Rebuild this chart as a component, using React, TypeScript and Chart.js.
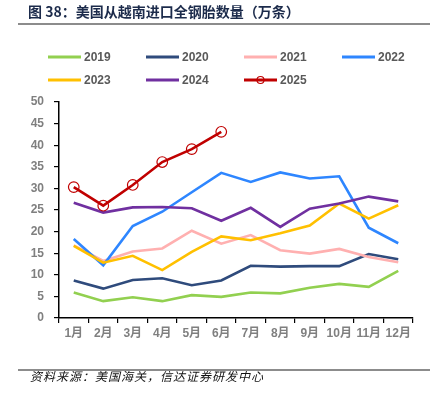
import React, { useEffect, useRef } from 'react';
import { Chart, registerables } from 'chart.js';

Chart.register(...registerables);

const categories = ['1月', '2月', '3月', '4月', '5月', '6月', '7月', '8月', '9月', '10月', '11月', '12月'];
const years = ['2019', '2020', '2021', '2022', '2023', '2024', '2025'];
const v2019 = [5.9, 3.9, 4.8, 3.9, 5.3, 4.9, 5.9, 5.7, 7.0, 7.9, 7.2, 10.9];
const v2020 = [8.7, 6.8, 8.8, 9.2, 7.6, 8.7, 12.1, 11.9, 12.0, 12.0, 14.8, 13.6];
const v2021 = [16.8, 13.2, 15.4, 16.1, 20.2, 17.2, 19.2, 15.7, 14.9, 16.0, 14.1, 12.9];
const v2022 = [18.3, 12.2, 21.3, 24.6, 29.1, 33.6, 31.5, 33.7, 32.3, 32.8, 20.9, 17.3];
const v2023 = [16.7, 12.8, 14.4, 11.1, 15.3, 18.9, 18.0, 19.6, 21.4, 26.5, 23.0, 26.1];
const v2024 = [26.7, 24.4, 25.6, 25.7, 25.4, 22.5, 25.5, 21.1, 25.3, 26.5, 28.1, 27.0];
const v2025 = [30.3, 26.0, 30.8, 36.1, 39.1, 43.1];
const colors = ['#92D050', '#2F4B7C', '#FFB0B0', '#2E86FF', '#FFC000', '#7030A0', '#C00000'];
const seriesValues = [v2019, v2020, v2021, v2022, v2023, v2024, v2025];

const FONT = '"Liberation Sans", Arial, "Noto Sans CJK SC", sans-serif';

const legendPlugin = {
  id: 'gridLegend',
  afterDraw(chart: any) {
    const ctx = chart.ctx;
    const colX = [48, 146, 244, 342];
    const rowY = [57, 80];
    ctx.save();
    chart.data.datasets.forEach((ds: any, i: number) => {
      const x = colX[i % 4];
      const y = rowY[Math.floor(i / 4)];
      ctx.strokeStyle = ds.borderColor;
      ctx.lineWidth = 3;
      ctx.beginPath();
      ctx.moveTo(x, y);
      ctx.lineTo(x + 33, y);
      ctx.stroke();
      if (ds.pointRadius > 0) {
        ctx.lineWidth = 1.2;
        ctx.beginPath();
        ctx.arc(x + 16.5, y, 3.5, 0, Math.PI * 2);
        ctx.stroke();
      }
      ctx.fillStyle = '#595959';
      ctx.font = 'bold 12px ' + FONT;
      ctx.textBaseline = 'middle';
      ctx.textAlign = 'left';
      ctx.fillText(ds.label, x + 36, y + 0.5);
    });
    ctx.restore();
  },
};

export default function App() {
  const ref = useRef<HTMLCanvasElement>(null);
  useEffect(() => {
    if (!ref.current) return;
    const datasets = years.map((y, i) => ({
      label: y,
      data: seriesValues[i],
      borderColor: colors[i],
      backgroundColor: colors[i],
      borderWidth: 2.6,
      tension: 0,
      fill: false,
      order: years.length - 1 - i,
      pointRadius: y === '2025' ? 5.3 : 0,
      pointHoverRadius: y === '2025' ? 5.3 : 0,
      pointBorderWidth: 1.2,
      pointBackgroundColor: 'rgba(0,0,0,0)',
      pointBorderColor: colors[i],
      pointStyle: 'circle',
    }));
    const chart = new Chart(ref.current, {
      type: 'line',
      data: { labels: categories, datasets },
      plugins: [legendPlugin],
      options: {
        animation: false,
        responsive: false,
        devicePixelRatio: 1,
        layout: { padding: { left: 0, right: 19, top: 102, bottom: 50 } },
        plugins: { legend: { display: false }, tooltip: { enabled: false }, title: { display: false } },
        scales: {
          x: {
            offset: true,
            afterFit: (s: any) => { s.height = 30; },
            grid: { display: true, offset: true, drawOnChartArea: false, drawTicks: true, tickLength: 5, color: '#000', lineWidth: 1.2 },
            border: { display: true, color: '#000', width: 1.5 },
            ticks: { color: '#7f7f7f', font: { family: FONT, size: 12, weight: 'bold' }, padding: 3, maxRotation: 0, autoSkip: false },
          },
          y: {
            min: 0,
            max: 50,
            afterFit: (s: any) => { s.width = 59; },
            grid: { display: true, drawOnChartArea: false, drawTicks: true, tickLength: 5, color: '#000', lineWidth: 1.2 },
            border: { display: true, color: '#000', width: 1.5 },
            ticks: { stepSize: 5, color: '#7f7f7f', font: { family: FONT, size: 12, weight: 'bold' }, padding: 10 },
          },
        },
      } as any,
    });
    return () => chart.destroy();
  }, []);

  return (
    <div style={{ position: 'absolute', left: 0, top: 0, width: 432, height: 398, background: '#fff', overflow: 'hidden' }}>
      <canvas ref={ref} width={432} height={398} style={{ position: 'absolute', left: 0, top: 0, width: 432, height: 398 }} />
      <div style={{ position: 'absolute', left: 28, top: 1, fontFamily: '"Noto Sans CJK SC", sans-serif', fontWeight: 'bold', fontSize: 14, lineHeight: '20px', color: '#1c2b4b', whiteSpace: 'nowrap' }}>
        图 38：美国从越南进口全钢胎数量（万条）
      </div>
      <div style={{ position: 'absolute', left: 18, top: 23, width: 412, height: 2, background: '#8c8c8c' }} />
      <div style={{ position: 'absolute', left: 18, top: 369, width: 412, height: 2, background: '#8c8c8c' }} />
      <div style={{ position: 'absolute', left: 30, top: 368, fontFamily: '"Noto Sans CJK SC", sans-serif', fontStyle: 'italic', fontSize: 12, lineHeight: '16px', letterSpacing: 1, color: '#111', whiteSpace: 'nowrap' }}>
        资料来源：美国海关，信达证券研发中心
      </div>
    </div>
  );
}
